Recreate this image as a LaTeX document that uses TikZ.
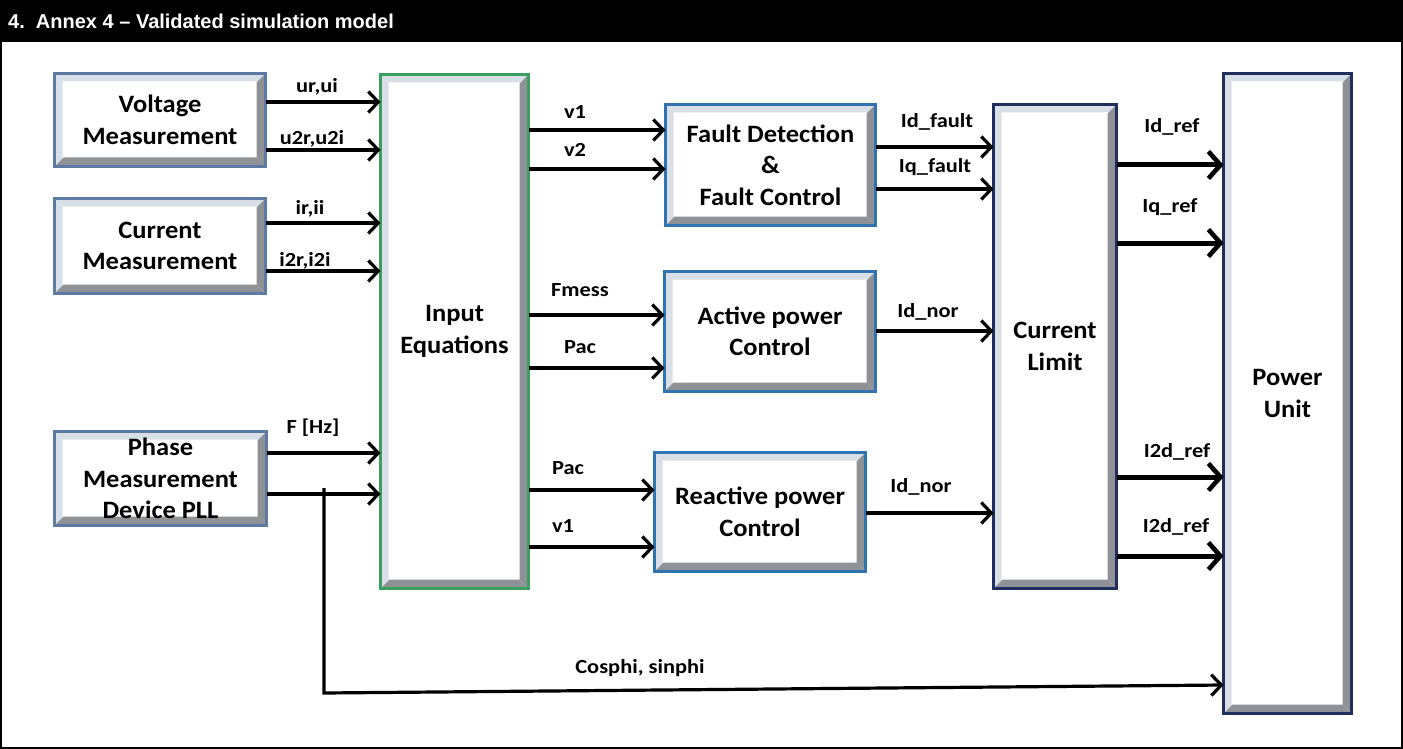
\documentclass[tikz,border=0pt]{standalone}
\usepackage{fontspec}
\setmainfont{Carlito}
\newfontfamily\titlefont{Liberation Sans}
\newfontfamily\boxfont{Carlito}[FakeStretch=1.06]
\newfontfamily\lblfont{Carlito}[FakeStretch=1.12]
\usetikzlibrary{arrows.meta,calc}
\definecolor{slate}{HTML}{5B7BA5}
\definecolor{grn}{HTML}{3A9F5F}
\definecolor{blu}{HTML}{2F73B0}
\definecolor{navy}{HTML}{1F2F5E}
\definecolor{bevd}{HTML}{8E9196}
\definecolor{bevl}{HTML}{D9DFE7}
\begin{document}
\begin{tikzpicture}[x=1pt,y=-1pt,
  bev/.style={path picture={
    \coordinate (ptl) at (path picture bounding box.north west);
    \coordinate (pbr) at (path picture bounding box.south east);
    \fill[bevl] (ptl) -- (ptl|-pbr) -- ++(8,-8) -- ($(ptl)+(8,8)$) -- cycle;
    \fill[bevl] (ptl) -- (pbr|-ptl) -- ++(-8,8) -- ($(ptl)+(8,8)$) -- cycle;
    \fill[bevd] (pbr|-ptl) -- (pbr) -- ++(-9,-9) -- ($(pbr|-ptl)+(-9,9)$) -- cycle;
    \fill[bevd] (ptl|-pbr) -- (pbr) -- ++(-9,-9) -- ($(ptl|-pbr)+(9,-9)$) -- cycle;
  }},
  box/.style={bev, draw, line width=3pt, fill=white, inner sep=0pt, outer sep=0pt,
    align=center, font=\boxfont\bfseries\fontsize{25}{31.5}\selectfont},
  mbox/.style={box, draw=slate},
  gbox/.style={box, draw=grn},
  bbox/.style={box, draw=blu},
  nbox/.style={box, draw=navy},
  lbl/.style={font=\lblfont\bfseries\fontsize{20}{22}\selectfont, inner sep=0pt},
  arr/.style={line width=3.2pt, -{Straight Barb[length=10pt,width=21pt,line width=3.2pt]}},
  tarr/.style={line width=5pt, -{Straight Barb[length=12pt,width=27pt,line width=4.6pt]}},
]
\useasboundingbox (0,0) rectangle (1403,749);
% frame and title
\fill[white] (0,0) rectangle (1403,749);
\draw[line width=2pt] (1,1) rectangle (1402,748);
\fill[black] (0,0) rectangle (1403,42);
\node[anchor=west, text=white, inner sep=0pt, font=\titlefont\bfseries\fontsize{20}{22}\selectfont] (title) at (8,21) {4.\ \ Annex 4 – Validated simulation model};

% boxes
\node[mbox, minimum width=211pt, minimum height=93pt] (vm) at (160,120) {Voltage\\Measurement};
\node[mbox, minimum width=211pt, minimum height=95pt] (cm) at (160,246) {Current\\Measurement};
\node[mbox, minimum width=212pt, minimum height=94pt] (pm) at (160.5,478.5) {Phase\\Measurement\\Device PLL};
\node[gbox, minimum width=148pt, minimum height=514pt] (inp) at (454.5,331.5) {Input\\Equations};
\node[bbox, minimum width=210pt, minimum height=121pt] (fd) at (770.5,165) {Fault Detection\\\&\\Fault Control};
\node[bbox, minimum width=211pt, minimum height=120pt] (ap) at (770,331.5) {Active power\\Control};
\node[bbox, minimum width=211pt, minimum height=119pt] (rp) at (760,512) {Reactive power\\Control};
\node[nbox, minimum width=123pt, minimum height=484pt] (cl) at (1055,346.5) {Current\\Limit};
\node[nbox, minimum width=128pt, minimum height=640pt] (pu) at (1287.5,393.5) {Power\\Unit};

% measurement -> input
\draw[arr] (vm.east |- 0,102) -- (inp.west |- 0,102) node[lbl] at (317,87) {ur,ui};
\draw[arr] (vm.east |- 0,150) -- (inp.west |- 0,150) node[lbl] at (312,139) {u2r,u2i};
\draw[arr] (cm.east |- 0,223) -- (inp.west |- 0,223) node[lbl] at (310,209) {ir,ii};
\draw[arr] (cm.east |- 0,271) -- (inp.west |- 0,271) node[lbl] at (305,261) {i2r,i2i};
\draw[arr] (pm.east |- 0,453) -- (inp.west |- 0,453) node[lbl] at (313,428) {F [Hz]};
\draw[arr] (pm.east |- 0,494) -- (inp.west |- 0,494);

% input -> control blocks
\draw[arr] (inp.east |- 0,130) -- (fd.west |- 0,130) node[lbl] at (575,112) {v1};
\draw[arr] (inp.east |- 0,169) -- (fd.west |- 0,169) node[lbl] at (575,150) {v2};
\draw[arr] (inp.east |- 0,315) -- (ap.west |- 0,315) node[lbl] at (580,290) {Fmess};
\draw[arr] (inp.east |- 0,368) -- (ap.west |- 0,368) node[lbl] at (580,347) {Pac};
\draw[arr] (inp.east |- 0,490) -- (rp.west |- 0,490) node[lbl] at (568,468) {Pac};
\draw[arr] (inp.east |- 0,547) -- (rp.west |- 0,547) node[lbl] at (563,526) {v1};

% control blocks -> current limit
\draw[arr] (fd.east |- 0,147) -- (cl.west |- 0,147) node[lbl] at (937,122) {Id\_fault};
\draw[arr] (fd.east |- 0,189) -- (cl.west |- 0,189) node[lbl] at (935,167) {Iq\_fault};
\draw[arr] (ap.east |- 0,331) -- (cl.west |- 0,331) node[lbl] at (928,312) {Id\_nor};
\draw[arr] (rp.east |- 0,513) -- (cl.west |- 0,513) node[lbl] at (921,487) {Id\_nor};

% current limit -> power unit
\draw[tarr] (cl.east |- 0,165) -- (pu.west |- 0,165) node[lbl] at (1172,127) {Id\_ref};
\draw[tarr] (cl.east |- 0,243) -- (pu.west |- 0,243) node[lbl] at (1170,207) {Iq\_ref};
\draw[tarr] (cl.east |- 0,477) -- (pu.west |- 0,477) node[lbl] at (1177,452) {I2d\_ref};
\draw[tarr] (cl.east |- 0,556) -- (pu.west |- 0,556) node[lbl] at (1176,527) {I2d\_ref};

% cosphi branch
\coordinate (split) at (324,488);
\coordinate (bend) at (324,693);
\draw[arr] (split) -- (bend) -- (pu.west |- 0,685) node[lbl] at (640,668) {Cosphi, sinphi};
\end{tikzpicture}
\end{document}
